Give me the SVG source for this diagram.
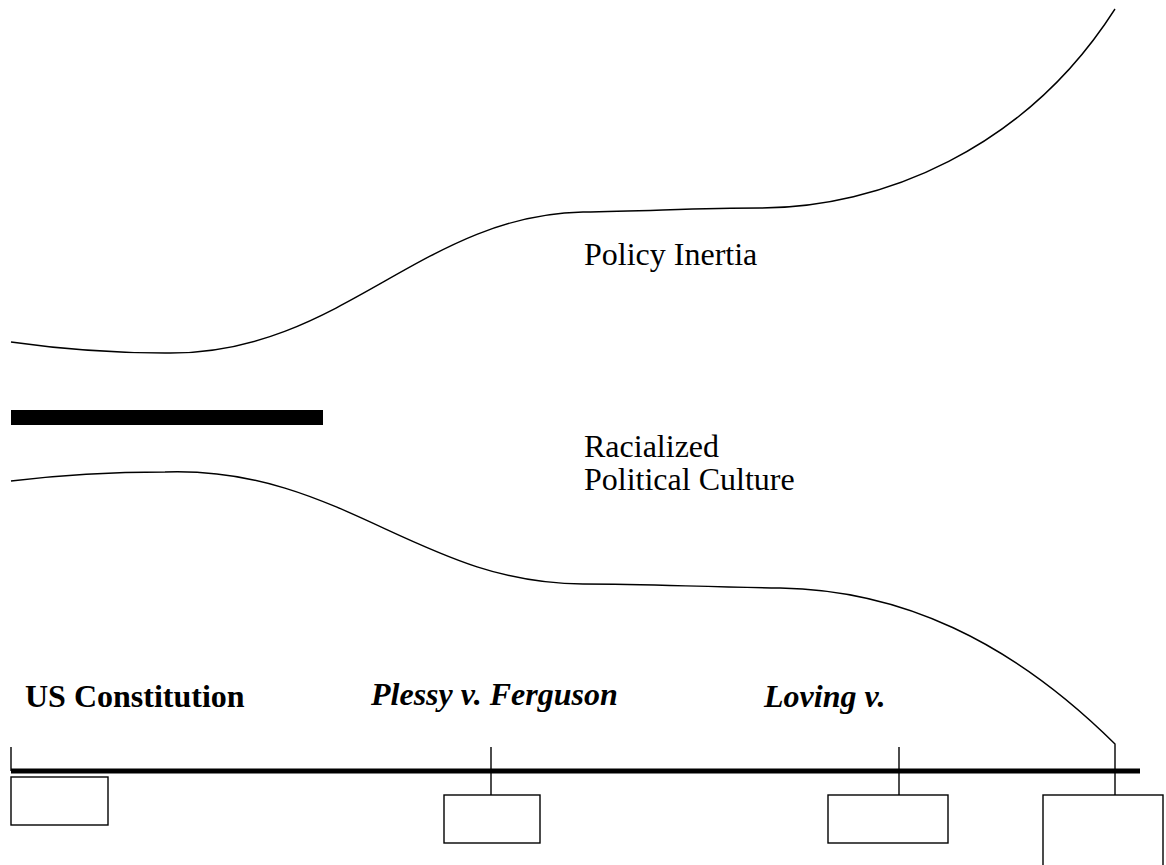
<svg xmlns="http://www.w3.org/2000/svg" width="1166" height="865" viewBox="0 0 1166 865">
<style>
.thin{fill:none;stroke:#000;stroke-width:1.4}
.box{fill:#fff;stroke:#000;stroke-width:1.4}
.lbl{font-family:"Liberation Serif","Times New Roman",serif;font-size:32px;fill:#000}
.bi{font-weight:bold;font-style:italic}
.b{font-weight:bold}
</style>
<rect width="1166" height="865" fill="#fff"/>
<g id="connectors">
<path class="thin" d="M11,342 C60,349 120,353 165,353 C340,356 420,215 583,212 C650,211 700,208 760,208 C880,208 1025,150 1115,9"/>
<path class="thin" d="M11,481 C60,475 110,472 165,472 C340,466 420,584 583,584 C650,584 700,587 780,588 C900,590 1010,640 1115,744 L1115,795"/>
<line x1="11" y1="771" x2="1140" y2="771" stroke="#000" stroke-width="5"/>
<line class="thin" x1="11" y1="747" x2="11" y2="771"/>
<line class="thin" x1="491" y1="747" x2="491" y2="795"/>
<line class="thin" x1="899" y1="747" x2="899" y2="795"/>
</g>
<g id="bar"><rect x="11" y="410" width="312" height="15" fill="#000"/></g>
<g id="policy-inertia"><text class="lbl" x="584" y="265">Policy Inertia</text></g>
<g id="racialized-political-culture"><text class="lbl" x="584" y="457">Racialized</text><text class="lbl" x="584" y="490">Political Culture</text></g>
<g id="us-constitution"><text class="lbl b" x="25" y="707">US Constitution</text><rect class="box" x="11" y="777" width="97" height="48"/></g>
<g id="plessy"><text class="lbl bi" x="371" y="705">Plessy v. Ferguson</text><rect class="box" x="444" y="795" width="96" height="48"/></g>
<g id="loving"><text class="lbl bi" x="764" y="707">Loving v.</text><rect class="box" x="828" y="795" width="120" height="48"/></g>
<g id="last-box"><rect class="box" x="1043" y="795" width="120" height="80"/></g>
</svg>
